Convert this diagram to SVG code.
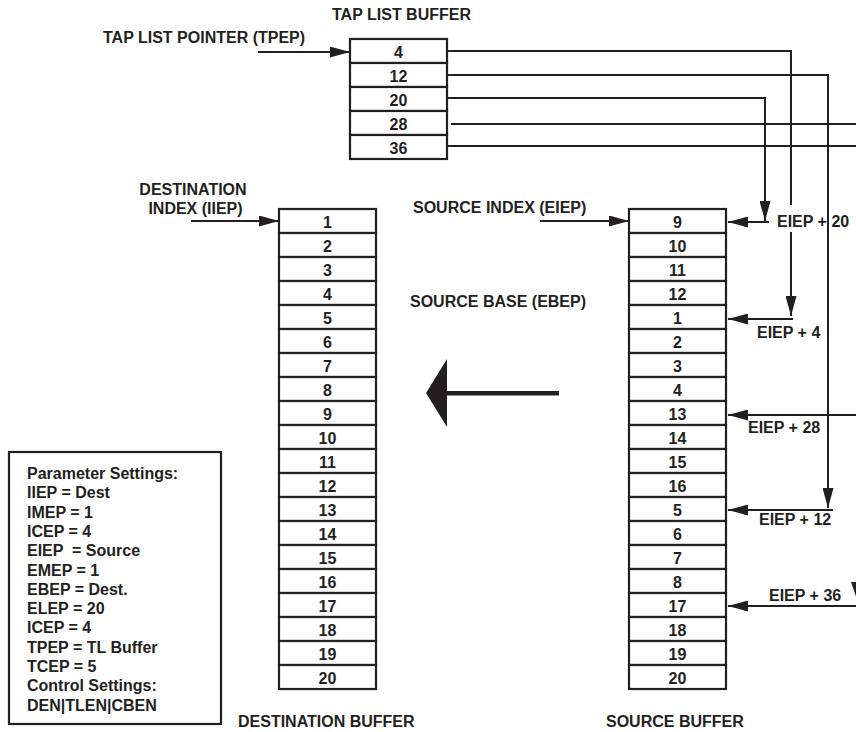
<svg xmlns="http://www.w3.org/2000/svg" width="856" height="732" viewBox="0 0 856 732">
<defs>
<style>
text{font-family:"Liberation Sans",Arial,Helvetica,sans-serif;font-weight:bold;font-size:16px;fill:#231f20}
.num{text-anchor:middle}
.cell{fill:#fff;stroke:#231f20;stroke-width:2.2}
.frame{fill:#fff;stroke:#231f20;stroke-width:2.2}
.wire{fill:none;stroke:#231f20;stroke-width:2}
.arr{marker-end:url(#ah)}
</style>
<marker id="ah" markerUnits="userSpaceOnUse" markerWidth="20" markerHeight="11" refX="20" refY="5.5" orient="auto" viewBox="0 0 20 11">
<path d="M0,0 L20,5.5 L0,11 Z" fill="#231f20"/>
</marker>
</defs>
<rect width="856" height="732" fill="#fff"/>

<g id="tap-list-buffer">
<text class="num" x="401.5" y="20">TAP LIST BUFFER</text>
<rect class="cell" x="350" y="39" width="97" height="24"/>
<rect class="cell" x="350" y="63" width="97" height="24"/>
<rect class="cell" x="350" y="87" width="97" height="24"/>
<rect class="cell" x="350" y="111" width="97" height="24"/>
<rect class="cell" x="350" y="135" width="97" height="24"/>
<text class="num" x="398.5" y="57.5">4</text>
<text class="num" x="398.5" y="81.5">12</text>
<text class="num" x="398.5" y="105.5">20</text>
<text class="num" x="398.5" y="129.5">28</text>
<text class="num" x="398.5" y="153.5">36</text>
</g>

<g id="tap-list-pointer-label">
<text x="103" y="43">TAP LIST POINTER (TPEP)</text>
</g>

<g id="destination-index-label">
<text class="num" x="193" y="195">DESTINATION</text>
<text class="num" x="195.5" y="214">INDEX (IIEP)</text>
</g>

<g id="source-index-label">
<text x="413" y="213">SOURCE INDEX (EIEP)</text>
</g>

<g id="source-base-label">
<text x="410" y="307">SOURCE BASE (EBEP)</text>
</g>

<g id="destination-buffer">
<rect class="cell" x="279" y="209" width="97" height="24"/>
<rect class="cell" x="279" y="233" width="97" height="24"/>
<rect class="cell" x="279" y="257" width="97" height="24"/>
<rect class="cell" x="279" y="281" width="97" height="24"/>
<rect class="cell" x="279" y="305" width="97" height="24"/>
<rect class="cell" x="279" y="329" width="97" height="24"/>
<rect class="cell" x="279" y="353" width="97" height="24"/>
<rect class="cell" x="279" y="377" width="97" height="24"/>
<rect class="cell" x="279" y="401" width="97" height="24"/>
<rect class="cell" x="279" y="425" width="97" height="24"/>
<rect class="cell" x="279" y="449" width="97" height="24"/>
<rect class="cell" x="279" y="473" width="97" height="24"/>
<rect class="cell" x="279" y="497" width="97" height="24"/>
<rect class="cell" x="279" y="521" width="97" height="24"/>
<rect class="cell" x="279" y="545" width="97" height="24"/>
<rect class="cell" x="279" y="569" width="97" height="24"/>
<rect class="cell" x="279" y="593" width="97" height="24"/>
<rect class="cell" x="279" y="617" width="97" height="24"/>
<rect class="cell" x="279" y="641" width="97" height="24"/>
<rect class="cell" x="279" y="665" width="97" height="24"/>
<text class="num" x="327.5" y="227.5">1</text>
<text class="num" x="327.5" y="251.5">2</text>
<text class="num" x="327.5" y="275.5">3</text>
<text class="num" x="327.5" y="299.5">4</text>
<text class="num" x="327.5" y="323.5">5</text>
<text class="num" x="327.5" y="347.5">6</text>
<text class="num" x="327.5" y="371.5">7</text>
<text class="num" x="327.5" y="395.5">8</text>
<text class="num" x="327.5" y="419.5">9</text>
<text class="num" x="327.5" y="443.5">10</text>
<text class="num" x="327.5" y="467.5">11</text>
<text class="num" x="327.5" y="491.5">12</text>
<text class="num" x="327.5" y="515.5">13</text>
<text class="num" x="327.5" y="539.5">14</text>
<text class="num" x="327.5" y="563.5">15</text>
<text class="num" x="327.5" y="587.5">16</text>
<text class="num" x="327.5" y="611.5">17</text>
<text class="num" x="327.5" y="635.5">18</text>
<text class="num" x="327.5" y="659.5">19</text>
<text class="num" x="327.5" y="683.5">20</text>
<text x="238" y="727">DESTINATION BUFFER</text>
</g>

<g id="source-buffer">
<rect class="cell" x="629" y="209" width="97" height="24"/>
<rect class="cell" x="629" y="233" width="97" height="24"/>
<rect class="cell" x="629" y="257" width="97" height="24"/>
<rect class="cell" x="629" y="281" width="97" height="24"/>
<rect class="cell" x="629" y="305" width="97" height="24"/>
<rect class="cell" x="629" y="329" width="97" height="24"/>
<rect class="cell" x="629" y="353" width="97" height="24"/>
<rect class="cell" x="629" y="377" width="97" height="24"/>
<rect class="cell" x="629" y="401" width="97" height="24"/>
<rect class="cell" x="629" y="425" width="97" height="24"/>
<rect class="cell" x="629" y="449" width="97" height="24"/>
<rect class="cell" x="629" y="473" width="97" height="24"/>
<rect class="cell" x="629" y="497" width="97" height="24"/>
<rect class="cell" x="629" y="521" width="97" height="24"/>
<rect class="cell" x="629" y="545" width="97" height="24"/>
<rect class="cell" x="629" y="569" width="97" height="24"/>
<rect class="cell" x="629" y="593" width="97" height="24"/>
<rect class="cell" x="629" y="617" width="97" height="24"/>
<rect class="cell" x="629" y="641" width="97" height="24"/>
<rect class="cell" x="629" y="665" width="97" height="24"/>
<text class="num" x="677.5" y="227.5">9</text>
<text class="num" x="677.5" y="251.5">10</text>
<text class="num" x="677.5" y="275.5">11</text>
<text class="num" x="677.5" y="299.5">12</text>
<text class="num" x="677.5" y="323.5">1</text>
<text class="num" x="677.5" y="347.5">2</text>
<text class="num" x="677.5" y="371.5">3</text>
<text class="num" x="677.5" y="395.5">4</text>
<text class="num" x="677.5" y="419.5">13</text>
<text class="num" x="677.5" y="443.5">14</text>
<text class="num" x="677.5" y="467.5">15</text>
<text class="num" x="677.5" y="491.5">16</text>
<text class="num" x="677.5" y="515.5">5</text>
<text class="num" x="677.5" y="539.5">6</text>
<text class="num" x="677.5" y="563.5">7</text>
<text class="num" x="677.5" y="587.5">8</text>
<text class="num" x="677.5" y="611.5">17</text>
<text class="num" x="677.5" y="635.5">18</text>
<text class="num" x="677.5" y="659.5">19</text>
<text class="num" x="677.5" y="683.5">20</text>
<text x="606" y="727">SOURCE BUFFER</text>
</g>

<g id="parameter-settings">
<rect class="frame" x="9" y="452" width="212" height="272"/>
<text x="27" y="479">Parameter Settings:</text>
<text x="27" y="498.3">IIEP = Dest</text>
<text x="27" y="517.6">IMEP = 1</text>
<text x="27" y="536.9">ICEP = 4</text>
<text x="27" y="556.2" style="white-space:pre">EIEP  = Source</text>
<text x="27" y="575.5">EMEP = 1</text>
<text x="27" y="594.8">EBEP = Dest.</text>
<text x="27" y="614.1">ELEP = 20</text>
<text x="27" y="633.4">ICEP = 4</text>
<text x="27" y="652.7">TPEP = TL Buffer</text>
<text x="27" y="672">TCEP = 5</text>
<text x="27" y="691.3">Control Settings:</text>
<text x="27" y="710.6">DEN|TLEN|CBEN</text>
</g>

<g id="connectors">
<path class="wire arr" d="M258,52 H350"/>
<path class="wire arr" d="M191,221 H279"/>
<path class="wire arr" d="M540,221 H629"/>
<path class="wire" d="M447,51 H791 V205"/>
<path class="wire arr" d="M791,232 V316"/>
<path class="wire arr" d="M793,319 H728"/>
<path class="wire arr" d="M447,75 H828 V508"/>
<path class="wire arr" d="M833,510 H728"/>
<path class="wire arr" d="M447,98 H765 V221"/>
<path class="wire arr" d="M769,222 H728"/>
<path class="wire" d="M451,124 H856"/>
<path class="wire" d="M447,146 H856"/>
<path class="wire arr" d="M856,415 H728"/>
<path class="wire arr" d="M856,606 H728"/>
<polygon points="851,582 862,582 856.5,598" fill="#231f20"/>
<polygon points="426,393 447,359 447,391 559,391 559,395.5 447,395.5 447,427" fill="#231f20"/>
</g>

<g id="connector-labels">
<text x="777" y="227">EIEP + 20</text>
<text x="757" y="338">EIEP + 4</text>
<text x="748" y="433">EIEP + 28</text>
<text x="759" y="525">EIEP + 12</text>
<text x="769" y="601">EIEP + 36</text>
</g>
</svg>
